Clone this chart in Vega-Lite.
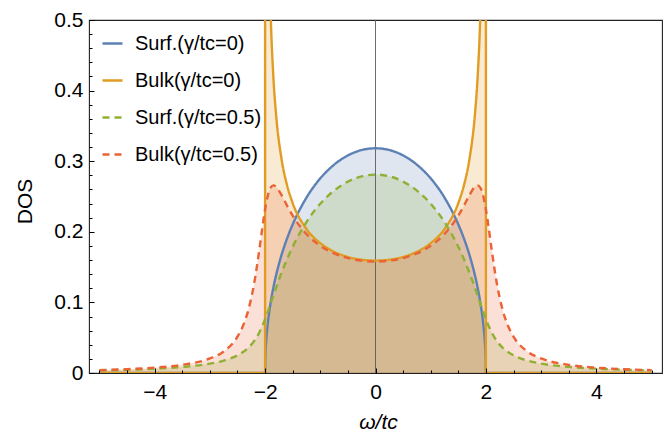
{
  "$schema": "https://vega.github.io/schema/vega-lite/v6.json",
  "width": 573,
  "height": 353,
  "autosize": {"type": "none"},
  "padding": {"left": 89, "top": 20, "right": 8, "bottom": 72},
  "background": "white",
  "config": {
    "view": {"stroke": "#222222", "strokeWidth": 1.1},
    "font": "Liberation Sans"
  },
  "datasets": {
    "curves": [
      {"s": "s0", "w": -5, "v": 0},
      {"s": "s0", "w": -2, "v": 0},
      {"s": "s0", "w": -1.995, "v": 0.0225},
      {"s": "s0", "w": -1.98, "v": 0.0449},
      {"s": "s0", "w": -1.95, "v": 0.0707},
      {"s": "s0", "w": -1.9, "v": 0.0994},
      {"s": "s0", "w": -1.85, "v": 0.121},
      {"s": "s0", "w": -1.8, "v": 0.1388},
      {"s": "s0", "w": -1.75, "v": 0.1541},
      {"s": "s0", "w": -1.7, "v": 0.1677},
      {"s": "s0", "w": -1.6, "v": 0.191},
      {"s": "s0", "w": -1.5, "v": 0.2105},
      {"s": "s0", "w": -1.25, "v": 0.2485},
      {"s": "s0", "w": -1, "v": 0.2757},
      {"s": "s0", "w": -0.75, "v": 0.2951},
      {"s": "s0", "w": -0.5, "v": 0.3082},
      {"s": "s0", "w": -0.25, "v": 0.3158},
      {"s": "s0", "w": 0, "v": 0.3183},
      {"s": "s0", "w": 0.25, "v": 0.3158},
      {"s": "s0", "w": 0.5, "v": 0.3082},
      {"s": "s0", "w": 0.75, "v": 0.2951},
      {"s": "s0", "w": 1, "v": 0.2757},
      {"s": "s0", "w": 1.25, "v": 0.2485},
      {"s": "s0", "w": 1.5, "v": 0.2105},
      {"s": "s0", "w": 1.6, "v": 0.191},
      {"s": "s0", "w": 1.7, "v": 0.1677},
      {"s": "s0", "w": 1.75, "v": 0.1541},
      {"s": "s0", "w": 1.8, "v": 0.1388},
      {"s": "s0", "w": 1.85, "v": 0.121},
      {"s": "s0", "w": 1.9, "v": 0.0994},
      {"s": "s0", "w": 1.95, "v": 0.0707},
      {"s": "s0", "w": 1.98, "v": 0.0449},
      {"s": "s0", "w": 1.995, "v": 0.0225},
      {"s": "s0", "w": 2, "v": 0},
      {"s": "s0", "w": 5, "v": 0},

      {"s": "b0", "w": -5, "v": 0},
      {"s": "b0", "w": -2, "v": 0},
      {"s": "b0", "w": -1.999, "v": 5.03},
      {"s": "b0", "w": -1.99, "v": 1.594},
      {"s": "b0", "w": -1.98, "v": 1.128},
      {"s": "b0", "w": -1.95, "v": 0.7163},
      {"s": "b0", "w": -1.92, "v": 0.5684},
      {"s": "b0", "w": -1.9, "v": 0.5097},
      {"s": "b0", "w": -1.85, "v": 0.4189},
      {"s": "b0", "w": -1.8, "v": 0.3651},
      {"s": "b0", "w": -1.7, "v": 0.3021},
      {"s": "b0", "w": -1.6, "v": 0.2653},
      {"s": "b0", "w": -1.5, "v": 0.2406},
      {"s": "b0", "w": -1.25, "v": 0.2039},
      {"s": "b0", "w": -1, "v": 0.1838},
      {"s": "b0", "w": -0.75, "v": 0.1717},
      {"s": "b0", "w": -0.5, "v": 0.1644},
      {"s": "b0", "w": -0.25, "v": 0.1604},
      {"s": "b0", "w": 0, "v": 0.1592},
      {"s": "b0", "w": 0.25, "v": 0.1604},
      {"s": "b0", "w": 0.5, "v": 0.1644},
      {"s": "b0", "w": 0.75, "v": 0.1717},
      {"s": "b0", "w": 1, "v": 0.1838},
      {"s": "b0", "w": 1.25, "v": 0.2039},
      {"s": "b0", "w": 1.5, "v": 0.2406},
      {"s": "b0", "w": 1.6, "v": 0.2653},
      {"s": "b0", "w": 1.7, "v": 0.3021},
      {"s": "b0", "w": 1.8, "v": 0.3651},
      {"s": "b0", "w": 1.85, "v": 0.4189},
      {"s": "b0", "w": 1.9, "v": 0.5097},
      {"s": "b0", "w": 1.92, "v": 0.5684},
      {"s": "b0", "w": 1.95, "v": 0.7163},
      {"s": "b0", "w": 1.98, "v": 1.128},
      {"s": "b0", "w": 1.99, "v": 1.594},
      {"s": "b0", "w": 1.999, "v": 5.03},
      {"s": "b0", "w": 2, "v": 0},
      {"s": "b0", "w": 5, "v": 0},

      {"s": "s5", "w": -5, "v": 0.0036},
      {"s": "s5", "w": -4.5, "v": 0.0046},
      {"s": "s5", "w": -4, "v": 0.0061},
      {"s": "s5", "w": -3.5, "v": 0.0086},
      {"s": "s5", "w": -3, "v": 0.0133},
      {"s": "s5", "w": -2.75, "v": 0.0176},
      {"s": "s5", "w": -2.5, "v": 0.0251},
      {"s": "s5", "w": -2.4, "v": 0.0297},
      {"s": "s5", "w": -2.3, "v": 0.0361},
      {"s": "s5", "w": -2.2, "v": 0.0451},
      {"s": "s5", "w": -2.1, "v": 0.0582},
      {"s": "s5", "w": -2.05, "v": 0.0667},
      {"s": "s5", "w": -2, "v": 0.0763},
      {"s": "s5", "w": -1.95, "v": 0.087},
      {"s": "s5", "w": -1.9, "v": 0.0983},
      {"s": "s5", "w": -1.85, "v": 0.1097},
      {"s": "s5", "w": -1.8, "v": 0.121},
      {"s": "s5", "w": -1.7, "v": 0.1424},
      {"s": "s5", "w": -1.6, "v": 0.1617},
      {"s": "s5", "w": -1.5, "v": 0.1788},
      {"s": "s5", "w": -1.25, "v": 0.2138},
      {"s": "s5", "w": -1, "v": 0.2397},
      {"s": "s5", "w": -0.75, "v": 0.2584},
      {"s": "s5", "w": -0.5, "v": 0.2711},
      {"s": "s5", "w": -0.25, "v": 0.2786},
      {"s": "s5", "w": 0, "v": 0.281},
      {"s": "s5", "w": 0.25, "v": 0.2786},
      {"s": "s5", "w": 0.5, "v": 0.2711},
      {"s": "s5", "w": 0.75, "v": 0.2584},
      {"s": "s5", "w": 1, "v": 0.2397},
      {"s": "s5", "w": 1.25, "v": 0.2138},
      {"s": "s5", "w": 1.5, "v": 0.1788},
      {"s": "s5", "w": 1.6, "v": 0.1617},
      {"s": "s5", "w": 1.7, "v": 0.1424},
      {"s": "s5", "w": 1.8, "v": 0.121},
      {"s": "s5", "w": 1.85, "v": 0.1097},
      {"s": "s5", "w": 1.9, "v": 0.0983},
      {"s": "s5", "w": 1.95, "v": 0.087},
      {"s": "s5", "w": 2, "v": 0.0763},
      {"s": "s5", "w": 2.05, "v": 0.0667},
      {"s": "s5", "w": 2.1, "v": 0.0582},
      {"s": "s5", "w": 2.2, "v": 0.0451},
      {"s": "s5", "w": 2.3, "v": 0.0361},
      {"s": "s5", "w": 2.4, "v": 0.0297},
      {"s": "s5", "w": 2.5, "v": 0.0251},
      {"s": "s5", "w": 2.75, "v": 0.0176},
      {"s": "s5", "w": 3, "v": 0.0133},
      {"s": "s5", "w": 3.5, "v": 0.0086},
      {"s": "s5", "w": 4, "v": 0.0061},
      {"s": "s5", "w": 4.5, "v": 0.0046},
      {"s": "s5", "w": 5, "v": 0.0036},

      {"s": "b5", "w": -5, "v": 0.0041},
      {"s": "b5", "w": -4.5, "v": 0.0054},
      {"s": "b5", "w": -4, "v": 0.0076},
      {"s": "b5", "w": -3.5, "v": 0.0116},
      {"s": "b5", "w": -3, "v": 0.0206},
      {"s": "b5", "w": -2.75, "v": 0.0305},
      {"s": "b5", "w": -2.5, "v": 0.0515},
      {"s": "b5", "w": -2.4, "v": 0.0669},
      {"s": "b5", "w": -2.3, "v": 0.0902},
      {"s": "b5", "w": -2.2, "v": 0.1261},
      {"s": "b5", "w": -2.1, "v": 0.1772},
      {"s": "b5", "w": -2.05, "v": 0.2058},
      {"s": "b5", "w": -2, "v": 0.2318},
      {"s": "b5", "w": -1.95, "v": 0.2513},
      {"s": "b5", "w": -1.9, "v": 0.2624},
      {"s": "b5", "w": -1.85, "v": 0.2658},
      {"s": "b5", "w": -1.8, "v": 0.2638},
      {"s": "b5", "w": -1.7, "v": 0.2516},
      {"s": "b5", "w": -1.6, "v": 0.2367},
      {"s": "b5", "w": -1.5, "v": 0.2229},
      {"s": "b5", "w": -1.25, "v": 0.1968},
      {"s": "b5", "w": -1, "v": 0.1801},
      {"s": "b5", "w": -0.75, "v": 0.1694},
      {"s": "b5", "w": -0.5, "v": 0.1628},
      {"s": "b5", "w": -0.25, "v": 0.1591},
      {"s": "b5", "w": 0, "v": 0.1579},
      {"s": "b5", "w": 0.25, "v": 0.1591},
      {"s": "b5", "w": 0.5, "v": 0.1628},
      {"s": "b5", "w": 0.75, "v": 0.1694},
      {"s": "b5", "w": 1, "v": 0.1801},
      {"s": "b5", "w": 1.25, "v": 0.1968},
      {"s": "b5", "w": 1.5, "v": 0.2229},
      {"s": "b5", "w": 1.6, "v": 0.2367},
      {"s": "b5", "w": 1.7, "v": 0.2516},
      {"s": "b5", "w": 1.8, "v": 0.2638},
      {"s": "b5", "w": 1.85, "v": 0.2658},
      {"s": "b5", "w": 1.9, "v": 0.2624},
      {"s": "b5", "w": 1.95, "v": 0.2513},
      {"s": "b5", "w": 2, "v": 0.2318},
      {"s": "b5", "w": 2.05, "v": 0.2058},
      {"s": "b5", "w": 2.1, "v": 0.1772},
      {"s": "b5", "w": 2.2, "v": 0.1261},
      {"s": "b5", "w": 2.3, "v": 0.0902},
      {"s": "b5", "w": 2.4, "v": 0.0669},
      {"s": "b5", "w": 2.5, "v": 0.0515},
      {"s": "b5", "w": 2.75, "v": 0.0305},
      {"s": "b5", "w": 3, "v": 0.0206},
      {"s": "b5", "w": 3.5, "v": 0.0116},
      {"s": "b5", "w": 4, "v": 0.0076},
      {"s": "b5", "w": 4.5, "v": 0.0054},
      {"s": "b5", "w": 5, "v": 0.0041}
    ],
    "origin": [{"w": 0}]
  },
  "resolve": {"axis": {"x": "independent", "y": "independent"}},
  "layer": [
    {
      "data": {"name": "curves"},
      "mark": {"type": "area", "interpolate": "monotone", "clip": true, "fillOpacity": 0.2},
      "encoding": {
        "x": {
          "field": "w", "type": "quantitative",
          "scale": {"domain": [-5.19, 5.19], "nice": false, "zero": false},
          "axis": {
            "orient": "bottom",
            "values": [-4, -2, 0, 2, 4],
            "domain": false, "grid": false,
            "tickSize": -5, "tickColor": "black", "tickWidth": 1,
            "labelFontSize": 21, "labelColor": "black", "labelFont": "Liberation Sans",
            "labelPadding": 13, "labelFlush": false, "labelOverlap": false,
            "title": "ω/tc", "titleFontSize": 21, "titleFontStyle": "italic",
            "titleFontWeight": "normal", "titleColor": "black", "titleFont": "Liberation Sans",
            "titleX": 289, "titleY": 55, "titleAlign": "center", "titleBaseline": "alphabetic",
            "zindex": 1
          }
        },
        "y": {
          "field": "v", "type": "quantitative", "stack": null,
          "scale": {"domain": [0, 0.5], "nice": false},
          "axis": {
            "orient": "left",
            "values": [0, 0.1, 0.2, 0.3, 0.4, 0.5],
            "labelExpr": "datum.value == 0 ? '0' : format(datum.value, '.1f')",
            "domain": false, "grid": false,
            "tickSize": -5, "tickColor": "black", "tickWidth": 1,
            "labelFontSize": 21, "labelColor": "black", "labelFont": "Liberation Sans",
            "labelPadding": 11, "labelFlush": false, "labelOverlap": false,
            "title": "DOS", "titleFontSize": 21, "titleFontWeight": "normal",
            "titleColor": "black", "titleFont": "Liberation Sans",
            "titleX": -64, "titleY": 181, "titleAngle": -90,
            "titleAlign": "center", "titleBaseline": "middle",
            "zindex": 1
          }
        },
        "color": {
          "field": "s", "type": "nominal",
          "scale": {"domain": ["s0", "b0", "s5", "b5"], "range": ["#5E81B5", "#E19C24", "#8FB032", "#EB6235"]},
          "legend": {
            "title": null,
            "orient": "top-left", "offset": 12,
            "padding": 0,
            "symbolType": "stroke", "symbolSize": 400, "symbolStrokeWidth": 2.4,
            "symbolOpacity": 1, "symbolFillColor": "transparent",
            "labelFontSize": 20, "labelFont": "Liberation Sans", "labelColor": "black",
            "labelOffset": 11, "rowPadding": 15, "labelLimit": 300,
            "labelExpr": "datum.value == 's0' ? 'Surf.(γ/tc=0)' : datum.value == 'b0' ? 'Bulk(γ/tc=0)' : datum.value == 's5' ? 'Surf.(γ/tc=0.5)' : 'Bulk(γ/tc=0.5)'"
          }
        }
      }
    },
    {
      "data": {"name": "origin"},
      "mark": {"type": "rule", "color": "#5a5a5a", "strokeWidth": 0.9},
      "encoding": {
        "x": {
          "field": "w", "type": "quantitative",
          "axis": {
            "orient": "bottom",
            "values": [-5, -4.5, -3.5, -3, -2.5, -1.5, -1, -0.5, 0.5, 1, 1.5, 2.5, 3, 3.5, 4.5, 5],
            "labels": false, "domain": false, "grid": false, "title": null,
            "tickSize": -3, "tickColor": "black", "tickWidth": 1, "zindex": 1
          }
        }
      }
    },
    {
      "data": {"name": "curves"},
      "mark": {"type": "line", "interpolate": "monotone", "clip": true, "strokeWidth": 2.4},
      "encoding": {
        "x": {"field": "w", "type": "quantitative", "axis": null},
        "y": {
          "field": "v", "type": "quantitative",
          "axis": {
            "orient": "left",
            "values": [0.02, 0.04, 0.06, 0.08, 0.12, 0.14, 0.16, 0.18, 0.22, 0.24, 0.26, 0.28, 0.32, 0.34, 0.36, 0.38, 0.42, 0.44, 0.46, 0.48],
            "labels": false, "domain": false, "grid": false, "title": null,
            "tickSize": -3, "tickColor": "black", "tickWidth": 1, "zindex": 1
          }
        },
        "color": {"field": "s", "type": "nominal"},
        "strokeDash": {
          "field": "s", "type": "nominal",
          "scale": {"domain": ["s0", "b0", "s5", "b5"], "range": [[1, 0], [1, 0], [7, 5], [7, 5]]},
          "legend": {
            "title": null,
            "orient": "top-left", "offset": 12,
            "padding": 0,
            "symbolType": "stroke", "symbolSize": 400, "symbolStrokeWidth": 2.4,
            "labelFontSize": 20, "labelFont": "Liberation Sans", "labelColor": "black",
            "labelOffset": 11, "rowPadding": 15, "labelLimit": 300,
            "labelExpr": "datum.value == 's0' ? 'Surf.(γ/tc=0)' : datum.value == 'b0' ? 'Bulk(γ/tc=0)' : datum.value == 's5' ? 'Surf.(γ/tc=0.5)' : 'Bulk(γ/tc=0.5)'"
          }
        }
      }
    }
  ]
}
